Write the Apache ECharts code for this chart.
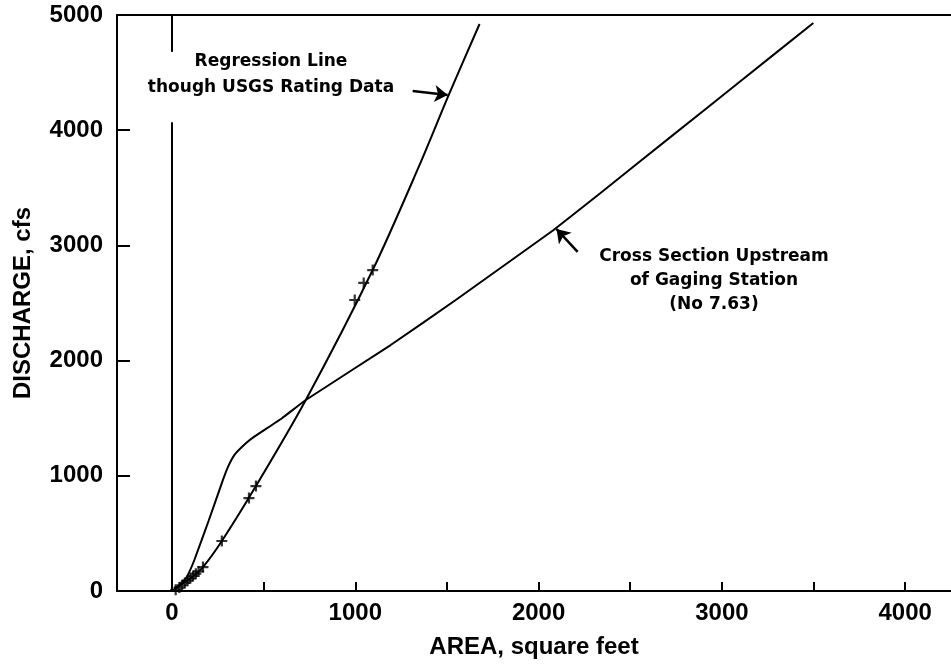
<!DOCTYPE html>
<html><head><meta charset="utf-8">
<script src="https://cdn.jsdelivr.net/npm/echarts@6/dist/echarts.min.js"></script>
<style>html,body{margin:0;padding:0;background:#fff}#c{width:951px;height:665px}</style>
</head><body><div id="c"></div>
<script>
// ---- data ----
const xTickValues = [0, 500, 1000, 1500, 2000, 2500, 3000, 3500, 4000];
const xLabelValues = [0, 1000, 2000, 3000, 4000];
const yLabelValues = [0, 1000, 2000, 3000, 4000, 5000];

// Regression line through USGS rating data [area, discharge]
const regressionLine = [[10,20],[100,110],[169,208],[272,434],[458,911],[730,1658],[1095,2786],[1346,3681],[1510,4306],[1678,4922]];
// USGS rating data points ("+" markers)
const ratingData = [[20,10],[40,30],[55,50],[70,70],[85,90],[100,110],[115,130],[130,150],[145,170],[169,208],[272,434],[420,807],[458,911],[997,2526],[1046,2674],[1095,2786]];
// Cross section upstream of gaging station
const crossSection = [[0,0],[40,40],[80,120],[122,269],[200,610],[278,964],[305,1076],[340,1180],[403,1282],[449,1340],[600,1500],[730,1658],[1193,2135],[1548,2526],[1777,2786],[2082,3134],[2338,3455],[2719,3940],[3101,4425],[3499,4931]];
// vertical reference line at area = 0 (interrupted where the label sits)
const zeroLineSegments = [[[0,0],[0,4070]],[[0,4680],[0,5000]]];
// annotation arrows [from, to]
const annotationArrows = [[[1313,4340],[1504,4306]],[[2213,2943],[2098,3142]]];
const regressionNote = ['Regression Line', 'though USGS Rating Data'];
const crossNote = ['Cross Section Upstream', 'of Gaging Station', '(No 7.63)'];

const chart = echarts.init(document.getElementById('c'), null, {renderer: 'canvas'});
const black = '#000';
const tickFont = {fontFamily: 'Liberation Sans', fontWeight: 'bold', fontSize: 24, color: black};
const noteFont = {fontFamily: 'DejaVu Sans', fontWeight: 'bold', fontSize: 17, fill: black};
const plain = v => String(v);

const series = [
  {type: 'line', data: regressionLine, symbol: 'none', smooth: 0.3, lineStyle: {color: black, width: 2}, z: 3},
  {type: 'scatter', data: ratingData, symbol: 'path://M4,0H6V4H10V6H6V10H4V6H0V4H4Z', symbolSize: 11, itemStyle: {color: black}, z: 4},
  {type: 'line', data: crossSection, symbol: 'none', smooth: 0.1, lineStyle: {color: black, width: 2}, z: 3}
];
zeroLineSegments.forEach(seg => series.push({type: 'line', data: seg, symbol: 'none', lineStyle: {color: black, width: 2}}));
series.push({
  type: 'lines', coordinateSystem: 'cartesian2d',
  data: annotationArrows.map(a => ({coords: a})),
  symbol: ['none', 'arrow'], symbolSize: 13,
  lineStyle: {color: black, width: 2.5, opacity: 1}
});

const graphic = [];
regressionNote.forEach((t, i) => graphic.push({type: 'text', x: 271, y: 62 + i * 26, style: Object.assign({text: t, align: 'center', verticalAlign: 'middle'}, noteFont)}));
crossNote.forEach((t, i) => graphic.push({type: 'text', x: 714, y: 257 + i * 24, style: Object.assign({text: t, align: 'center', verticalAlign: 'middle'}, noteFont)}));

chart.setOption({
  animation: false,
  backgroundColor: '#fff',
  grid: {left: 117, top: 15, right: 0, bottom: 74, containLabel: false},
  xAxis: [{
    type: 'value', min: -300, max: 4250, position: 'bottom',
    name: 'AREA, square feet', nameLocation: 'middle', nameGap: 44,
    nameTextStyle: {fontFamily: 'Liberation Sans', fontWeight: 'bold', fontSize: 24, color: black},
    axisLine: {show: true, onZero: false, lineStyle: {color: black, width: 2}},
    axisTick: {show: true, inside: true, length: 9, customValues: xTickValues, lineStyle: {color: black, width: 2}},
    axisLabel: Object.assign({customValues: xLabelValues, margin: 10, formatter: plain}, tickFont),
    splitLine: {show: false}
  }, {
    type: 'value', min: -300, max: 4250, position: 'top',
    axisLine: {show: true, onZero: false, lineStyle: {color: black, width: 2}},
    axisTick: {show: false}, axisLabel: {show: false}, splitLine: {show: false}
  }],
  yAxis: {
    type: 'value', min: 0, max: 5000,
    name: 'DISCHARGE, cfs', nameLocation: 'middle', nameGap: 82, nameRotate: 90,
    nameTextStyle: {fontFamily: 'Liberation Sans', fontWeight: 'bold', fontSize: 24, color: black},
    axisLine: {show: true, onZero: false, lineStyle: {color: black, width: 2}},
    axisTick: {show: true, inside: true, length: 13, customValues: yLabelValues, lineStyle: {color: black, width: 2}},
    axisLabel: Object.assign({customValues: yLabelValues, margin: 14, formatter: plain}, tickFont),
    splitLine: {show: false}
  },
  series: series,
  graphic: graphic
});
</script></body></html>
